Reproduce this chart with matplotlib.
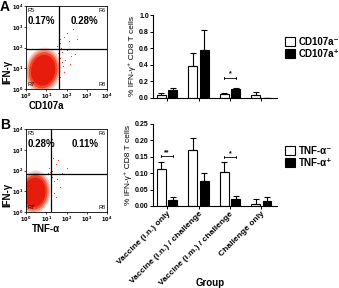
import numpy as np
import matplotlib.pyplot as plt
from matplotlib.patches import Ellipse, Patch

plt.rcParams['font.family'] = ['Liberation Sans', 'DejaVu Sans']
plt.rcParams['font.weight'] = 'bold'

# bar chart data
groups = ['Vaccine (i.n.) only', 'Vaccine (i.n.) / challenge',
          'Vaccine (i.m.) / challenge', 'Challenge only']

cd107_neg = [0.036, 0.388, 0.052, 0.04]
cd107_neg_err = [0.024, 0.156, 0.012, 0.03]
cd107_pos = [0.092, 0.58, 0.108, 0.0]
cd107_pos_err = [0.032, 0.24, 0.01, 0.0]

tnf_neg = [0.113, 0.171, 0.103, 0.005]
tnf_neg_err = [0.021, 0.036, 0.03, 0.016]
tnf_pos = [0.017, 0.075, 0.022, 0.014]
tnf_pos_err = [0.01, 0.025, 0.009, 0.012]

# flow plots (log10 units): gates, percentages, cloud, stray events
gate_a = (1.63, 1.93)
gate_b = (1.23, 1.82)
pct_a = ['0.17%', '0.28%']
pct_b = ['0.28%', '0.11%']
cloud_a = dict(x=0.85, y=0.9, w=1.75, h=2.2, angle=-12)
cloud_b = dict(x=0.42, y=0.95, w=1.6, h=2.1, angle=-8)
stray_a_x = [1.7, 1.9, 2.0, 2.1, 2.3, 2.2, 1.8, 2.5, 1.65, 2.0, 1.75, 1.9, 2.4,
             1.7, 1.85, 1.6, 1.95, 1.7, 2.15, 1.8, 1.55, 1.68]
stray_a_y = [2.2, 2.5, 2.7, 2.3, 2.9, 1.6, 1.3, 2.4, 1.0, 1.9, 2.0, 0.8, 1.7,
             1.5, 1.1, 1.75, 1.4, 0.6, 1.2, 1.8, 2.05, 2.4]
stray_b_x = [1.3, 1.5, 1.6, 1.8, 1.4, 1.7, 1.25, 1.5, 2.0, 1.35, 1.2, 1.3, 1.45,
             1.15, 1.4, 1.1, 1.55]
stray_b_y = [2.0, 2.3, 2.5, 1.9, 1.5, 1.2, 1.0, 0.7, 2.1, 2.6, 1.95, 1.7, 1.85,
             2.1, 0.9, 1.9, 1.6]

fig = plt.figure(figsize=(3.39, 2.88), dpi=100)


def flow_plot(rect, gate, pct, cloud, sx, sy, xlab, xlab_y):
    ax = fig.add_axes(rect)
    ax.set_xlim(0, 4)
    ax.set_ylim(0, 4)
    layers = [(1.0, '#f9c2b8', 0.8), (0.9, '#f58a74', 0.9),
              (0.8, '#ee4a30', 1.0), (0.68, '#e81c0c', 1.0)]
    for s, c, a in layers:
        ax.add_patch(Ellipse((cloud['x'], cloud['y']), cloud['w'] * s,
                             cloud['h'] * s, angle=cloud['angle'],
                             color=c, alpha=a, lw=0))
    ax.scatter(sx, sy, s=0.7, color='#e8301a', lw=0)
    ax.axvline(gate[0], color='black', lw=0.9)
    ax.axhline(gate[1], color='black', lw=0.9)
    ticks = [0, 1, 2, 3, 4]
    labs = ['$10^{%d}$' % t for t in ticks]
    ax.set_xticks(ticks)
    ax.set_xticklabels(labs, fontsize=3.6)
    ax.set_yticks(ticks)
    ax.set_yticklabels(labs, fontsize=3.6)
    ax.tick_params(length=1.5, width=0.5, pad=0.8)
    for sp in ax.spines.values():
        sp.set_linewidth(0.6)
    ax.text(0.06, 3.9, 'R5', fontsize=4, va='top', weight='normal')
    ax.text(3.94, 3.9, 'R6', fontsize=4, va='top', ha='right', weight='normal')
    ax.text(0.06, 0.08, 'R7', fontsize=4, va='bottom', weight='normal')
    ax.text(3.94, 0.08, 'R8', fontsize=4, va='bottom', ha='right', weight='normal')
    ax.text(0.06, 3.3, pct[0], fontsize=7, va='center')
    ax.text(2.9, 3.3, pct[1], fontsize=7, va='center', ha='center')
    ax.text(-0.92, 0.8, 'IFN-γ', rotation=90, fontsize=7, ha='center', va='center')
    fig.text((26 + 20) / 339, 1 - xlab_y / 288, xlab, fontsize=7, ha='center', va='center')
    return ax


flow_plot([26 / 339, 1 - 89 / 288, 81 / 339, 83 / 288], gate_a, pct_a, cloud_a,
          stray_a_x, stray_a_y, 'CD107a', 106)
flow_plot([26 / 339, 1 - 212 / 288, 81 / 339, 83 / 288], gate_b, pct_b, cloud_b,
          stray_b_x, stray_b_y, 'TNF-α', 229)

fig.text(0.0, 1.0, 'A', fontsize=10, va='top')
fig.text(0.0, 1 - 118 / 288, 'B', fontsize=10, va='top')


def bar_plot(rect, neg, neg_err, pos, pos_err, ymax, yticks, fmt, labels):
    ax = fig.add_axes(rect)
    x = np.arange(len(groups))
    w = 0.28
    ax.bar(x - 0.18, neg, w, color='white', edgecolor='black', lw=0.8,
           yerr=[np.zeros(4), neg_err], error_kw=dict(lw=0.8, capsize=2, capthick=0.8))
    ax.bar(x + 0.18, pos, w, color='black', edgecolor='black', lw=0.8,
           yerr=[np.zeros(4), pos_err], error_kw=dict(lw=0.8, capsize=2, capthick=0.8))
    ax.set_xlim(-0.45, 3.5)
    ax.set_ylim(0, ymax)
    ax.set_yticks(yticks)
    ax.set_yticklabels([fmt % t for t in yticks], fontsize=5)
    ax.set_xticks(x)
    if labels:
        ax.set_xticklabels(groups, rotation=45, ha='right', rotation_mode='anchor',
                           fontsize=6)
    else:
        ax.set_xticklabels([])
    ax.tick_params(length=2, width=0.7, pad=1)
    ax.spines['top'].set_visible(False)
    ax.spines['right'].set_visible(False)
    ax.spines['left'].set_linewidth(0.8)
    ax.spines['bottom'].set_linewidth(0.8)
    ax.set_ylabel('% IFN-γ⁺ CD8 T cells', fontsize=6, labelpad=2)
    return ax


def bracket(ax, gi, y, star, dy):
    x0, x1 = gi - 0.2, gi + 0.2
    ax.plot([x0, x1], [y, y], color='black', lw=0.6)
    ax.plot([x0, x0], [y - dy, y + dy], color='black', lw=0.6)
    ax.plot([x1, x1], [y - dy, y + dy], color='black', lw=0.6)
    ax.text(gi, y, star, fontsize=5, ha='center', va='bottom')


ax1 = bar_plot([153 / 339, 1 - 98 / 288, 124 / 339, 83 / 288],
               cd107_neg, cd107_neg_err, cd107_pos, cd107_pos_err,
               1.0, [0, 0.2, 0.4, 0.6, 0.8, 1.0], '%.1f', False)
bracket(ax1, 2, 0.245, '*', 0.012)

ax2 = bar_plot([153 / 339, 1 - 206 / 288, 124 / 339, 82 / 288],
               tnf_neg, tnf_neg_err, tnf_pos, tnf_pos_err,
               0.25, [0, 0.05, 0.10, 0.15, 0.20, 0.25], '%.2f', True)
bracket(ax2, 0, 0.153, '**', 0.003)
bracket(ax2, 2, 0.149, '*', 0.003)
fig.text(210 / 339, 1 - 283 / 288, 'Group', fontsize=7, ha='center', va='center')

leg_a = [Patch(facecolor='white', edgecolor='black', lw=0.8, label='CD107a⁻'),
         Patch(facecolor='black', edgecolor='black', lw=0.8, label='CD107a⁺')]
fig.legend(handles=leg_a, loc='center left', bbox_to_anchor=(280 / 339, 1 - 48 / 288),
           frameon=False, fontsize=7, handlelength=1.0, handleheight=1.0,
           handletextpad=0.4, labelspacing=0.2, borderpad=0)
leg_b = [Patch(facecolor='white', edgecolor='black', lw=0.8, label='TNF-α⁻'),
         Patch(facecolor='black', edgecolor='black', lw=0.8, label='TNF-α⁺')]
fig.legend(handles=leg_b, loc='center left', bbox_to_anchor=(280 / 339, 1 - 157 / 288),
           frameon=False, fontsize=7, handlelength=1.0, handleheight=1.0,
           handletextpad=0.4, labelspacing=0.2, borderpad=0)

fig.savefig('out.png', dpi=100)
